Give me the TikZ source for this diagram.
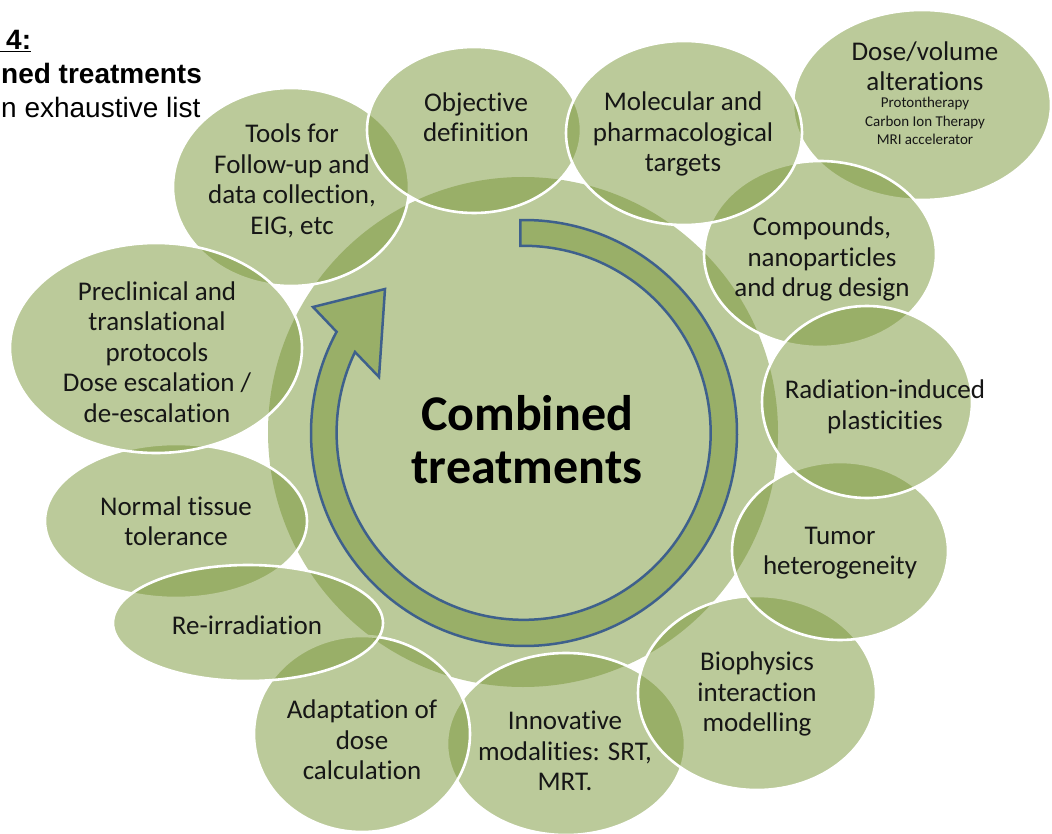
\documentclass[tikz,border=0pt]{standalone}
\usepackage{fontspec}
\setmainfont{Carlito}[Ligatures={NoCommon}]
\newfontfamily\hdrfont{Liberation Sans}
\usetikzlibrary{shapes.geometric}
\definecolor{olv}{RGB}{121,150,55}
\definecolor{arrblue}{RGB}{62,96,140}
\definecolor{txt}{RGB}{22,22,22}
\tikzset{
  bubble/.style={ellipse, draw=white, line width=2.6pt, fill=olv, fill opacity=0.5, inner sep=0pt},
  lbl/.style={align=center, text=txt, inner sep=0pt, font=\fontsize{27}{30.5}\selectfont},
  smalllbl/.style={align=center, text=txt, inner sep=0pt, font=\fontsize{15}{18.5}\selectfont},
  hdr/.style={anchor=base west, inner sep=0pt, text=black},
  ring/.style={fill=olv, fill opacity=0.5, draw=arrblue, line width=2.5pt, line join=miter}
}
\begin{document}
\begin{tikzpicture}[x=1pt,y=-1pt]
\clip (0,0) rectangle (1052,834);
\fill[white] (0,0) rectangle (1052,834);

% central disc
\node[circle, fill=olv, fill opacity=0.5, minimum size=510pt, inner sep=0pt] (core) at (523,432) {};

% surrounding ellipses (stacking order: bottom first)
\node[bubble, minimum width=236pt, minimum height=198pt] (tools) at (291,187) {};
\node[bubble, minimum width=258pt, minimum height=190pt] (dose) at (922,105) {};
\node[bubble, minimum width=232pt, minimum height=186pt] (compounds) at (820,254) {};
\node[bubble, minimum width=238pt, minimum height=182pt] (innov) at (566,744) {};
\node[bubble, minimum width=238pt, minimum height=194pt] (biophys) at (757,693) {};
\node[bubble, minimum width=216pt, minimum height=178pt] (tumor) at (840,551) {};
\node[bubble, minimum width=216pt, minimum height=196pt] (adapt) at (362,734) {};
\node[bubble, minimum width=262pt, minimum height=154pt] (normal) at (176,521) {};
\node[bubble, minimum width=292pt, minimum height=210pt] (preclin) at (156,348) {};
\node[bubble, minimum width=214pt, minimum height=166pt] (objective) at (474,130) {};
\node[bubble, minimum width=236pt, minimum height=184pt] (molec) at (684,133) {};
\node[bubble, minimum width=210pt, minimum height=192pt] (radiat) at (867,402) {};
\node[bubble, minimum width=270pt, minimum height=116pt] (reirr) at (248,623) {};

% circular arrow
\begin{scope}[shift={(524,433)}, yscale=-1]
  \draw[ring] (91:213) arc[start angle=91, end angle=-208.37, radius=213]
    -- (-211,126) -- (-139,144) -- (-145,56) -- (-169,81)
    arc[start angle=-205.6, end angle=91, radius=187] -- cycle;
\end{scope}

% labels
\node[lbl] (toolsT) at (292,181) {Tools for\\Follow-up and\\data collection,\\EIG, etc};
\node[lbl] (objT) at (476,117) {Objective\\definition};
\node[lbl] (molT) at (683,134) {Molecular and\\pharmacological\\targets};
\node[lbl] (doseT) at (925,66) {Dose/volume\\alterations};
\node[smalllbl] (doseS) at (925,121) {Protontherapy\\Carbon Ion Therapy\\MRI accelerator};
\node[lbl] (compT) at (822,259) {Compounds,\\nanoparticles\\and drug design};
\node[lbl] (radT) at (885,407) {Radiation-induced\\plasticities};
\node[lbl] (tumT) at (840,553) {Tumor\\heterogeneity};
\node[lbl] (bioT) at (757,694) {Biophysics\\interaction\\modelling};
\node[lbl] (innT) at (565,751) {Innovative\\modalities: SRT,\\MRT.};
\node[lbl] (adaT) at (362,740) {Adaptation of\\dose\\calculation};
\node[lbl] (reiT) at (247,625) {Re-irradiation};
\node[lbl] (norT) at (176,521) {Normal tissue\\tolerance};
\node[lbl] (preT) at (157,352) {Preclinical and\\translational\\protocols\\Dose escalation /\\de-escalation};
\node[align=center, text=black, inner sep=0pt, font=\fontsize{50}{53}\selectfont\bfseries] (center) at (527,440) {Combined\\treatments};

% header (top-left corner)
\node[hdr, font=\hdrfont\bfseries\fontsize{28}{32}\selectfont] (hA) at (0,50) {\underline{\hspace{6pt}4:}};
\node[hdr, font=\hdrfont\bfseries\fontsize{28}{32}\selectfont] (hB) at (1,84) {ned treatments};
\node[hdr, font=\hdrfont\fontsize{28}{32}\selectfont] (hC) at (1,118) {n exhaustive list};
\end{tikzpicture}
\end{document}
